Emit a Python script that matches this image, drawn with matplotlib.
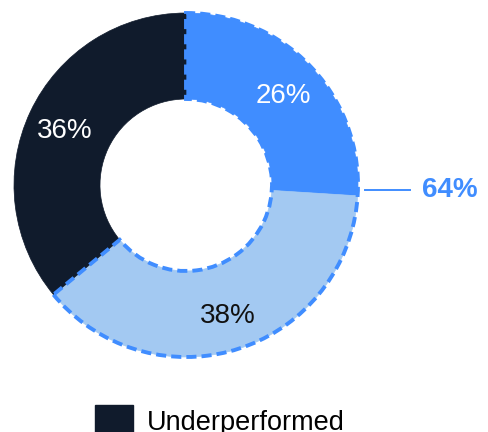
import matplotlib
matplotlib.use('Agg')
import matplotlib.pyplot as plt
import numpy as np
from matplotlib.patches import Wedge, Patch

plt.rcParams['font.family'] = ['Liberation Sans', 'DejaVu Sans']

# slice shares, clockwise from 12 o'clock
labels = ['Outperformed', 'Matched', 'Underperformed']
shares = [26, 38, 36]
colors = ['#408dff', '#a3c9f2', '#101b2c']
text_colors = ['white', '#111111', 'white']
group_total = shares[0] + shares[1]  # highlighted group
accent = '#408dff'

fig = plt.figure(figsize=(4.89, 4.32), dpi=100)
ax = fig.add_axes([0.0286, 0.1736, 0.7035, 0.7963])

wedges, texts = ax.pie(shares, colors=colors, startangle=90, counterclock=False,
                       radius=1.0, wedgeprops=dict(width=0.5, linewidth=0))
for w in wedges:
    w.set_edgecolor(w.get_facecolor())
    w.set_linewidth(0.5)

# percentage labels in the middle of the ring
for w, val, tc in zip(wedges, shares, text_colors):
    mid = np.deg2rad((w.theta1 + w.theta2) / 2)
    r = 0.78
    ax.text(r * np.cos(mid), r * np.sin(mid), f'{val}%', color=tc,
            fontsize=20, ha='center', va='center_baseline')

# dashed outline around the highlighted group
end_angle = 90 - 360 * group_total / sum(shares)
outline = Wedge((0, 0), 1.0, end_angle, 90, width=0.5, fill=False,
                edgecolor=accent, linewidth=2.8, linestyle=(0, (2.6, 1.3)),
                clip_on=False)
ax.add_patch(outline)

# callout with the group total
ax.plot([1.04, 1.30], [-0.03, -0.03], color=accent, linewidth=1.4, clip_on=False)
ax.text(1.37, -0.03, f'{group_total}%', color=accent, fontsize=20,
        fontweight='bold', ha='left', va='center')

ax.set_xlim(-1, 1)
ax.set_ylim(-1, 1)
ax.set_aspect('equal')
ax.axis('off')

fig.legend(handles=[Patch(color=colors[2])], labels=[labels[2]],
           loc='upper left', bbox_to_anchor=(95 / 489, 1 - 405 / 432),
           frameon=False, fontsize=19.5, handlelength=1.42, handleheight=1.45,
           handletextpad=0.5, borderpad=0, borderaxespad=0)

fig.savefig('out.png', dpi=100)
